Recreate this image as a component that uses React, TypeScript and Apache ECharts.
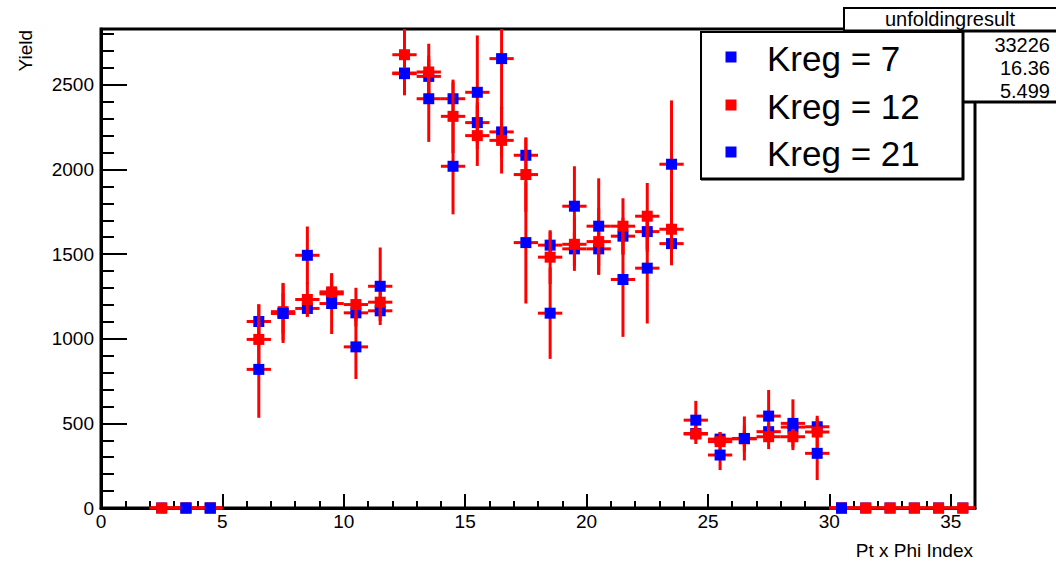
import React, { useEffect, useRef } from "react";
import * as echarts from "echarts";

// ---- data (bins of width 1, centres at i + 0.5) ----
const binCenters = [
  0.5, 1.5, 2.5, 3.5, 4.5, 5.5, 6.5, 7.5, 8.5, 9.5, 10.5, 11.5, 12.5, 13.5, 14.5, 15.5, 16.5, 17.5,
  18.5, 19.5, 20.5, 21.5, 22.5, 23.5, 24.5, 25.5, 26.5, 27.5, 28.5, 29.5, 30.5, 31.5, 32.5, 33.5, 34.5, 35.5,
];

const kreg7Values: (number | null)[] = [
  null, null, 0, 0, 0, null, 1102, 1150, 1179, 1265, 1153, 1165, 2570, 2550, 2418, 2277, 2222, 2084,
  1553, 1531, 1531, 1606, 1633, 1562, 440, 407, 410, 451, 478, 480, 0, 0, 0, 0, 0, 0,
];
const kreg7Errors = [
  0, 0, 0, 0, 0, 0, 100, 175, 50, 80, 80, 60, 120, 100, 100, 120, 150, 100,
  80, 100, 100, 110, 120, 100, 40, 40, 50, 50, 50, 50, 0, 0, 0, 0, 0, 0,
];

const kreg12Values: (number | null)[] = [
  null, null, 0, 0, 0, null, 996, 1160, 1232, 1277, 1202, 1216, 2678, 2576, 2314, 2200, 2172, 1970,
  1482, 1558, 1574, 1665, 1724, 1647, 437, 392, 409, 421, 421, 449, 0, 0, 0, 0, 0, 0,
];
const kreg12Errors = [
  0, 0, 0, 0, 0, 0, 208, 170, 100, 104, 99, 80, 240, 167, 217, 179, 196, 220,
  159, 157, 197, 165, 196, 213, 59, 57, 80, 73, 79, 96, 0, 0, 0, 0, 0, 0,
];

const kreg21Values: (number | null)[] = [
  null, null, null, 0, 0, null, 819, 1150, 1493, 1208, 952, 1310, 2566, 2418, 2019, 2456, 2655, 1568,
  1151, 1783, 1665, 1350, 1417, 2031, 519, 313, 411, 543, 500, 323, 0, null, null, null, null, null,
];
const kreg21Errors = [
  0, 0, 0, 0, 0, 0, 286, 120, 170, 180, 190, 229, 100, 255, 284, 336, 300, 360,
  270, 236, 283, 339, 327, 377, 114, 89, 130, 154, 142, 158, 0, 0, 0, 0, 0, 0,
];

const legendLabels = ["Kreg = 7", "Kreg = 12", "Kreg = 21"];
const statsTitle = "unfoldingresult";
const statsValues = ["33226", "16.36", "5.499"];
const xTitle = "Pt x Phi Index";
const yTitle = "Yield";

const X_MIN = 0;
const X_MAX = 36;
const Y_MIN = 0;
const Y_MAX = 2830;

const RED = "#ff0000";
const BLUE = "#0000ff";
const FONT = '"Liberation Sans", Arial, Helvetica, sans-serif';

function toData(values: (number | null)[], errors: number[]) {
  const out: number[][] = [];
  values.forEach((v, i) => {
    if (v !== null) out.push([binCenters[i], v, errors[i]]);
  });
  return out;
}

function makeRender(markerColor: string) {
  return (params: any, api: any) => {
    const x = api.value(0);
    const y = api.value(1);
    const e = api.value(2);
    const c = api.coord([x, y]);
    const l = api.coord([x - 0.5, y]);
    const r = api.coord([x + 0.5, y]);
    const ls = { stroke: RED, lineWidth: 3 };
    const children: any[] = [
      { type: "line", shape: { x1: l[0], y1: c[1], x2: r[0], y2: c[1] }, style: ls },
    ];
    if (e > 0) {
      const t = api.coord([x, Math.min(y + e, Y_MAX)]);
      const b = api.coord([x, Math.max(y - e, Y_MIN)]);
      children.push({ type: "line", shape: { x1: c[0], y1: t[1], x2: c[0], y2: b[1] }, style: ls });
    }
    children.push({
      type: "rect",
      shape: { x: c[0] - 5.5, y: c[1] - 5.5, width: 11, height: 11 },
      style: { fill: markerColor },
    });
    return { type: "group", children };
  };
}

function txt(text: string, x: number, y: number, size: number, align: string, vAlign: string, extra: any = {}) {
  return {
    type: "text",
    x,
    y,
    z: 120,
    ...extra,
    style: {
      text,
      fill: "#000",
      font: `${size}px ${FONT}`,
      align,
      textAlign: align,
      verticalAlign: vAlign,
      textVerticalAlign: vAlign,
    },
  };
}

export default function App() {
  const ref = useRef<HTMLDivElement>(null);

  useEffect(() => {
    if (!ref.current) return;
    const chart = echarts.init(ref.current, undefined, { renderer: "svg" });

    const axisLabelStyle = { color: "#000", fontSize: 19, fontFamily: FONT, formatter: (v: number) => String(v) };

    const option: any = {
      animation: false,
      backgroundColor: "#fff",
      grid: {
        left: 101,
        top: 29,
        right: 81,
        bottom: 55,
        show: true,
        borderColor: "#000",
        borderWidth: 3,
        outerBoundsMode: "none",
        containLabel: false,
      },
      xAxis: [
        {
          type: "value",
          min: X_MIN,
          max: X_MAX,
          interval: 5,
          position: "bottom",
          axisLine: { show: true, onZero: false, lineStyle: { color: "#000", width: 3 } },
          axisTick: { show: true, inside: true, length: 14, lineStyle: { color: "#000", width: 2 } },
          splitLine: { show: false },
          axisLabel: { ...axisLabelStyle, margin: 4, showMaxLabel: false },
        },
        {
          type: "value",
          min: X_MIN,
          max: X_MAX,
          interval: 1,
          position: "bottom",
          axisLine: { show: false },
          axisTick: { show: true, inside: true, length: 7, lineStyle: { color: "#000", width: 2 } },
          splitLine: { show: false },
          axisLabel: { show: false },
        },
      ],
      yAxis: [
        {
          type: "value",
          min: Y_MIN,
          max: Y_MAX,
          interval: 500,
          position: "left",
          axisLine: { show: true, onZero: false, lineStyle: { color: "#000", width: 3 } },
          axisTick: { show: true, inside: true, length: 26, lineStyle: { color: "#000", width: 2 } },
          splitLine: { show: false },
          axisLabel: { ...axisLabelStyle, margin: 7, showMaxLabel: false },
        },
        {
          type: "value",
          min: Y_MIN,
          max: Y_MAX,
          interval: 100,
          position: "left",
          axisLine: { show: false },
          axisTick: { show: true, inside: true, length: 13, lineStyle: { color: "#000", width: 2 } },
          splitLine: { show: false },
          axisLabel: { show: false },
        },
      ],
      series: [
        {
          name: legendLabels[0],
          type: "custom",
          xAxisIndex: 0,
          yAxisIndex: 0,
          z: 3,
          renderItem: makeRender(BLUE),
          dimensions: ["x", "y", "err"],
          encode: { x: 0, y: 1 },
          data: toData(kreg7Values, kreg7Errors),
        },
        {
          name: legendLabels[1],
          type: "custom",
          xAxisIndex: 0,
          yAxisIndex: 0,
          z: 4,
          renderItem: makeRender(RED),
          dimensions: ["x", "y", "err"],
          encode: { x: 0, y: 1 },
          data: toData(kreg12Values, kreg12Errors),
        },
        {
          name: legendLabels[2],
          type: "custom",
          xAxisIndex: 0,
          yAxisIndex: 0,
          z: 5,
          renderItem: makeRender(BLUE),
          dimensions: ["x", "y", "err"],
          encode: { x: 0, y: 1 },
          data: toData(kreg21Values, kreg21Errors),
        },
      ],
      graphic: [
        // stats box header
        {
          type: "rect",
          z: 100,
          shape: { x: 844, y: 8, width: 230, height: 23 },
          style: { fill: "#fff", stroke: "#000", lineWidth: 2 },
        },
        { type: "line", z: 101, shape: { x1: 844, y1: 31, x2: 1056, y2: 31 }, style: { stroke: "#000", lineWidth: 3 } },
        txt(statsTitle, 950, 19, 20, "center", "middle"),
        // stats body
        {
          type: "rect",
          z: 100,
          shape: { x: 844, y: 31, width: 230, height: 71 },
          style: { fill: "#fff", stroke: "#000", lineWidth: 2 },
        },
        { type: "line", z: 101, shape: { x1: 844, y1: 102, x2: 1056, y2: 102 }, style: { stroke: "#000", lineWidth: 3 } },
        txt(statsValues[0], 1050, 45, 20, "right", "middle"),
        txt(statsValues[1], 1050, 68, 20, "right", "middle"),
        txt(statsValues[2], 1050, 91, 20, "right", "middle"),
        // legend box
        {
          type: "rect",
          z: 110,
          shape: { x: 701, y: 32, width: 262, height: 147 },
          style: { fill: "#fff", stroke: "#000", lineWidth: 2 },
        },
        { type: "line", z: 111, shape: { x1: 963, y1: 32, x2: 963, y2: 180 }, style: { stroke: "#000", lineWidth: 3 } },
        { type: "line", z: 111, shape: { x1: 701, y1: 179, x2: 964, y2: 179 }, style: { stroke: "#000", lineWidth: 3 } },
        { type: "rect", z: 112, shape: { x: 725.5, y: 51.5, width: 11, height: 11 }, style: { fill: BLUE } },
        { type: "rect", z: 112, shape: { x: 725.5, y: 99.5, width: 11, height: 11 }, style: { fill: RED } },
        { type: "rect", z: 112, shape: { x: 725.5, y: 146.5, width: 11, height: 11 }, style: { fill: BLUE } },
        txt(legendLabels[0], 767, 58, 35, "left", "middle"),
        txt(legendLabels[1], 767, 106, 35, "left", "middle"),
        txt(legendLabels[2], 767, 153, 35, "left", "middle"),
        // axis titles
        txt(xTitle, 973, 550, 19, "right", "middle"),
        txt(yTitle, 25, 30, 19, "right", "middle", { rotation: Math.PI / 2 }),
      ],
    };

    chart.setOption(option);
    return () => chart.dispose();
  }, []);

  return (
    <div
      ref={ref}
      style={{ position: "fixed", left: 0, top: 0, width: 1056, height: 563, background: "#fff" }}
    />
  );
}
